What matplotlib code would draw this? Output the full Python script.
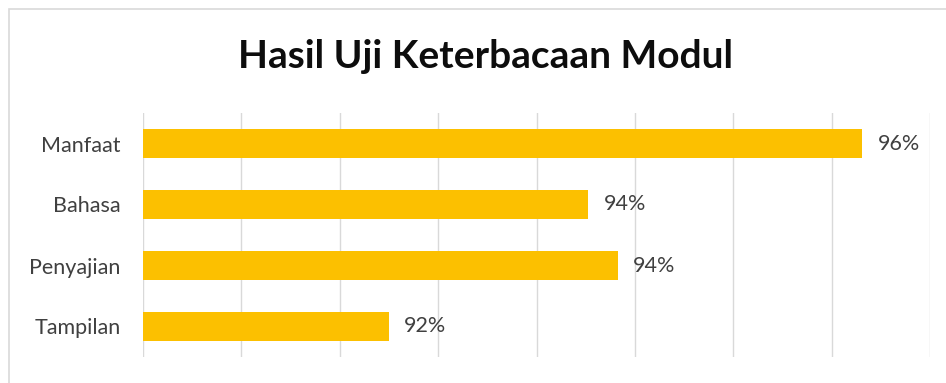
import matplotlib
matplotlib.use("Agg")
import matplotlib.pyplot as plt
from matplotlib.patches import Rectangle
import numpy as np

categories = ["Manfaat", "Bahasa", "Penyajian", "Tampilan"]
values = [95.85, 93.62, 93.86, 92.0]
labels = ["96%", "94%", "94%", "92%"]
x_min, x_max, x_step = 90.0, 96.4, 0.8

W, H = 946, 383
fig = plt.figure(figsize=(W / 100, H / 100), dpi=100)
fig.patch.set_facecolor("white")

# chart border (left and top visible)
fig.add_artist(Rectangle((9 / W, -20 / H), (W - 9 + 20) / W, (H - 9 + 20) / H,
                         transform=fig.transFigure, fill=False,
                         edgecolor="#d9d9d9", linewidth=1.2))

left, right, top, bottom = 143, 930, 113, 357
ax = fig.add_axes([left / W, 1 - bottom / H, (right - left) / W, (bottom - top) / H])
ax.set_facecolor("none")

y = np.arange(len(categories))
ax.barh(y, np.array(values) - x_min, left=x_min, height=0.48, color="#FCC000",
        edgecolor="none", zorder=3)
ax.set_xlim(x_min, x_max)
ax.set_ylim(len(categories) - 0.5, -0.5)
ax.set_xticks(np.arange(x_min, x_max + 1e-9, x_step))
ax.grid(axis="x", color="#d9d9d9", linewidth=1.0, zorder=0)
ax.tick_params(axis="x", length=0, labelbottom=False)
ax.tick_params(axis="y", length=0, pad=16)
ax.set_yticks(y)
ax.set_yticklabels(categories, fontsize=15.5, color="#404040", family="Lato")
for s in ax.spines.values():
    s.set_visible(False)

for yi, v, lab in zip(y, values, labels):
    ax.annotate(lab, (v, yi), xytext=(11, 0), textcoords="offset points",
                va="center", ha="left", fontsize=15.5, color="#404040", family="Lato")

fig.text(485 / W, 1 - 57 / H, "Hasil Uji Keterbacaan Modul", ha="center", va="center",
         fontsize=28, fontweight="bold", color="#0d0d0d", family="Lato")

fig.savefig("out.png", dpi=100, facecolor="white")
